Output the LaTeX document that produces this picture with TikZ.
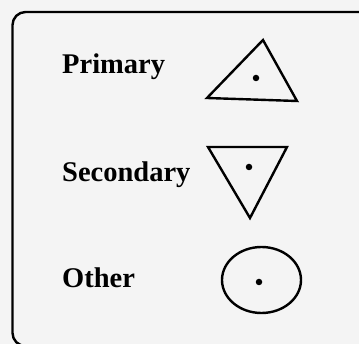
\documentclass[tikz,border=0pt]{standalone}
\usepackage{fontspec}
\setmainfont{Liberation Serif}
\usetikzlibrary{positioning}
\definecolor{legendbg}{HTML}{F4F4F4}

\begin{document}
\begin{tikzpicture}[x=1pt, y=-1pt,
  kindtext/.style={font=\fontsize{28.5}{31}\selectfont\bfseries, inner sep=0pt, anchor=base west},
  symbol/.style={draw, line width=2.4pt, line join=miter},
  centre/.style={fill, circle, minimum size=6.5pt, inner sep=0pt}]
  \useasboundingbox (0,0) rectangle (359,344);
  \fill[legendbg] (0,0) rectangle (359,344);
  \clip (0,0) rectangle (359,344);
  % frame of the legend
  \draw[line width=2.4pt, rounded corners=13pt] (12.5,12) rectangle (375,346);
  % kinds
  \node[kindtext] (prim) at (62,74) {Primary};
  \node[kindtext] (sec) at (62,182) {Secondary};
  \node[kindtext] (oth) at (62,288) {Other};
  % symbols
  \draw[symbol] (263,40) -- (297,101) -- (207,98) -- cycle;
  \node[centre] (primdot) at (256,78) {};
  \draw[symbol] (208,147) -- (287,147) -- (250,218) -- cycle;
  \node[centre] (secdot) at (249,167) {};
  \draw[symbol] (261.5,280) ellipse (39.5pt and 33pt);
  \node[centre] (othdot) at (259,282) {};
\end{tikzpicture}
\end{document}
